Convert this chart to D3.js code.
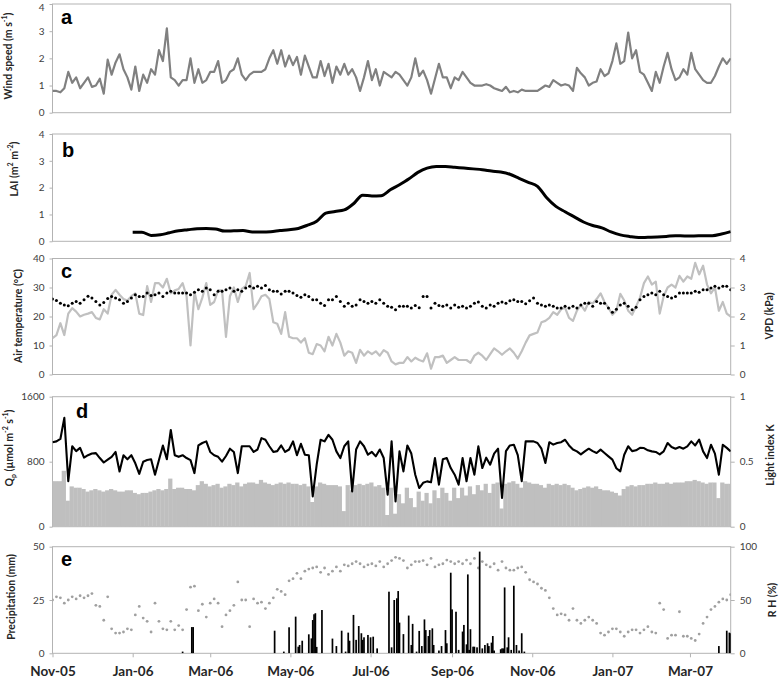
<!doctype html>
<html lang="en">
<head>
	<meta charset="UTF-8">
	<title>Wind, LAI, temperature, light and rain, Nov-05 to Mar-07</title>
	<style>
		body { margin: 0; background: #fff; }
		svg { display: block; font-family: Lato, "Open Sans", sans-serif; }
		.tick-label { font-size: 10px; fill: #404040; }
		.axis-title { font-size: 10.5px; font-weight: bold; fill: #262626; }
		.panel-letter { font-family: "Liberation Sans", Arial, sans-serif; font-size: 20px; font-weight: bold; fill: #000; }
		.month-label { font-size: 13.5px; font-weight: bold; fill: #262626; }
	</style>
</head>
<body>
	<script src="https://cdnjs.cloudflare.com/ajax/libs/d3/7.8.5/d3.min.js"></script>
	<script>
		// ---- data ----
		var startDay = '2005-11-01',
			endDay = '2007-04-01';

		var monthTicks = ['2005-11-01', '2006-01-01', '2006-03-01', '2006-05-01', '2006-07-01',
			'2006-09-01', '2006-11-01', '2007-01-01', '2007-03-01'];

		// series sampled every 3 days from 1 Nov 2005
		var sampleStep = 3;

		var windSpeed = [0.8,0.8,0.75,0.9,1.5,1.1,1.3,0.9,1.1,1.3,
			0.95,1.0,1.25,0.7,1.95,1.4,1.85,2.15,1.6,1.3,
			0.85,1.7,0.8,1.4,1.1,1.6,1.4,2.3,1.9,3.1,
			1.3,1.2,1.0,1.2,1.2,2.0,1.1,1.6,1.1,1.2,
			1.5,1.5,1.9,1.1,1.2,1.5,1.6,2.0,1.4,1.2,
			1.4,1.5,1.5,1.5,1.6,2.0,2.3,1.8,2.3,1.7,
			2.1,1.75,2.05,1.4,2.1,1.7,1.3,1.3,1.9,1.35,
			1.8,1.1,1.7,1.4,1.8,1.4,1.6,1.3,0.8,1.3,
			1.9,1.2,1.6,1.0,1.5,1.4,1.3,1.5,1.4,1.2,
			1.0,1.3,2.0,1.35,1.55,1.2,0.7,1.25,1.8,1.3,
			1.3,0.9,1.3,1.2,1.5,1.3,1.1,1.0,1.0,1.0,
			1.05,1.0,0.9,0.85,0.8,0.95,0.75,0.8,0.75,0.85,
			0.8,0.8,0.8,0.8,0.9,1.0,0.95,1.2,1.1,1.0,
			1.05,1.0,0.8,1.65,1.45,1.3,1.0,1.1,1.15,1.6,
			1.35,1.45,1.9,2.55,1.8,1.9,2.95,2.0,2.3,1.5,
			1.4,1.1,0.8,1.5,1.1,1.7,2.2,1.6,1.2,1.3,
			1.6,1.4,2.2,1.6,1.4,1.2,1.1,1.1,1.35,1.7,
			2.0,1.8,2.0];

		var airTemp = [26.0,25.5,24.6,24.0,23.7,24.6,25.2,24.6,25.8,27.0,
			26.4,25.2,24.0,24.8,26.2,26.9,26.4,25.8,24.6,25.2,
			26.4,27.5,26.9,26.9,28.1,27.2,27.5,28.1,26.9,28.1,
			28.7,28.1,28.1,28.1,28.1,27.5,28.4,29.2,28.7,29.8,
			29.2,27.5,28.7,28.7,29.2,29.8,28.7,29.2,28.7,29.8,
			30.4,29.8,30.4,29.8,30.7,29.2,28.7,28.7,27.8,28.7,
			28.7,28.1,27.2,26.6,27.5,26.9,25.8,25.8,24.6,23.8,
			25.8,25.8,26.9,25.2,23.5,24.6,23.5,24.0,25.8,25.2,
			24.6,25.2,24.6,25.8,24.6,23.5,23.2,22.3,23.5,23.5,
			23.5,22.9,23.8,23.0,26.9,26.9,22.9,24.6,23.8,23.5,
			24.0,22.9,24.0,23.2,23.5,22.9,23.5,24.6,25.0,23.5,
			22.9,24.0,23.5,24.6,25.0,24.6,25.4,25.8,25.2,25.2,
			24.4,25.4,26.4,24.6,24.0,23.5,24.0,23.5,22.9,22.9,
			23.5,22.9,23.5,22.9,24.0,24.6,24.6,23.5,25.2,24.6,
			24.6,22.9,21.5,22.5,24.0,24.6,23.5,22.3,23.2,25.8,
			26.9,27.5,28.1,27.5,28.7,27.5,26.9,26.4,26.9,28.1,
			28.1,28.1,28.1,28.7,28.4,29.2,29.2,29.8,30.4,29.8,
			30.4,30.4,29.2];

		var vpd = [1.25,1.36,1.77,1.36,2.1,2.29,2.17,2.0,2.06,2.1,
			2.15,1.95,1.9,2.25,2.1,2.75,2.92,2.75,2.6,2.55,
			2.7,2.8,2.1,2.05,3.05,2.5,3.15,3.15,3.0,3.3,
			2.8,2.9,2.95,3.15,2.7,1.0,2.85,2.25,2.65,3.15,
			2.4,2.5,2.9,2.9,1.3,2.7,3.0,2.5,2.95,3.05,
			3.5,2.25,2.45,2.7,2.75,2.6,1.8,1.75,1.4,2.15,
			1.3,1.25,1.25,1.1,1.25,0.75,0.7,1.05,1.0,0.8,
			1.3,1.0,1.4,1.1,0.65,0.8,0.75,0.4,0.85,0.65,
			0.8,0.7,0.8,0.65,0.84,0.75,0.45,0.35,0.4,0.4,
			0.6,0.45,0.58,0.5,0.45,0.73,0.2,0.6,0.6,0.65,
			0.4,0.5,0.6,0.5,0.5,0.5,0.4,0.65,0.75,0.65,
			0.5,0.7,0.9,0.8,0.68,0.8,0.9,0.75,0.55,0.8,
			1.1,1.35,1.4,1.45,1.8,1.85,1.95,2.15,2.06,2.25,
			2.3,1.95,1.85,2.2,2.4,2.2,2.5,2.45,2.6,2.8,
			2.5,2.3,2.06,2.2,2.78,2.55,2.2,2.06,2.35,2.65,
			3.15,3.38,3.1,3.2,2.1,2.7,3.0,3.1,3.0,3.4,
			3.2,3.38,3.3,3.85,3.45,3.75,3.1,2.8,3.0,2.2,
			2.5,2.1,2.0];

		var qp = [1040,1050,1080,1340,560,990,930,970,850,880,
			900,905,845,790,825,860,920,680,880,830,
			880,780,650,800,820,830,640,820,1000,830,
			1190,880,860,880,845,820,660,1000,1030,1050,
			920,880,860,800,870,960,920,660,990,990,
			990,920,950,1090,1070,990,920,930,1000,920,
			950,1050,880,1020,886,880,373,763,1070,1050,
			1130,1070,927,845,990,1050,435,950,1050,990,
			886,920,866,950,845,394,1050,312,927,681,
			1000,900,640,476,540,558,548,845,517,830,
			845,722,640,517,845,560,845,640,989,722,
			850,763,900,960,353,930,1000,1009,880,560,
			1050,1050,1050,1030,960,784,1040,1010,1030,1040,
			1070,1000,950,927,890,927,960,930,907,948,
			907,866,825,720,681,886,990,930,940,970,
			968,940,927,920,890,927,1030,980,960,980,
			960,989,1050,1000,1071,927,845,1009,900,640,
			1009,970,927];

		var lightK = [0.35,0.35,0.35,0.43,0.20,0.31,0.30,0.30,0.29,0.27,
			0.28,0.29,0.28,0.27,0.28,0.29,0.28,0.27,0.27,0.28,
			0.28,0.26,0.25,0.26,0.26,0.27,0.28,0.29,0.28,0.29,
			0.37,0.29,0.30,0.30,0.29,0.29,0.28,0.32,0.35,0.33,
			0.31,0.32,0.33,0.30,0.31,0.33,0.32,0.34,0.31,0.33,
			0.34,0.34,0.33,0.36,0.34,0.33,0.32,0.33,0.34,0.33,
			0.34,0.33,0.33,0.32,0.33,0.31,0.19,0.31,0.34,0.33,
			0.32,0.32,0.32,0.31,0.12,0.32,0.28,0.32,0.33,0.32,
			0.33,0.34,0.31,0.32,0.30,0.09,0.30,0.10,0.25,0.18,
			0.30,0.22,0.15,0.27,0.20,0.26,0.18,0.28,0.22,0.30,
			0.26,0.20,0.30,0.22,0.30,0.24,0.31,0.25,0.32,0.28,
			0.33,0.26,0.33,0.34,0.14,0.33,0.34,0.35,0.33,0.30,
			0.35,0.34,0.33,0.33,0.32,0.30,0.33,0.32,0.33,0.32,
			0.33,0.32,0.30,0.28,0.29,0.30,0.31,0.30,0.31,0.29,
			0.28,0.28,0.27,0.26,0.24,0.29,0.31,0.32,0.31,0.32,
			0.32,0.33,0.33,0.34,0.33,0.33,0.34,0.33,0.34,0.34,
			0.34,0.35,0.35,0.36,0.35,0.34,0.33,0.34,0.34,0.22,
			0.34,0.33,0.33];

		var rh = [50,53,52,47,50,53,51,54,52,54,
			56,45,44,31,53,23,19,19,20,23,
			22,36,44,33,30,20,47,30,23,22,
			30,22,26,22,41,62,63,40,46,34,
			47,51,47,25,36,40,45,67,50,50,
			25,51,47,48,42,47,52,60,58,55,
			68,70,75,70,77,79,80,81,76,80,
			74,77,81,77,83,82,84,86,84,81,
			83,84,82,86,81,84,87,90,89,87,
			80,83,86,86,87,83,89,81,83,84,
			87.5,86,84,86,84,87.5,84,89,80,86,
			83,81,84,78,86,80,78,78,80,81,
			76,69,67,65,61,59,52,42,36,37,
			36,31,42,31,28,31,34,31,28,19,
			17,20,23,23,20,16,20,22,22,19,
			22,25,20,19,47,41,14,17,17,39,
			16,16,14,12,18,28,34,41,44,48,
			51,50,55];

		// LAI, weekly from 1 Jan 2006
		var laiStart = '2006-01-01',
			laiStep = 7;
		var lai = [0.34,0.34,0.22,0.24,0.32,0.39,0.43,0.47,0.48,0.46,
			0.38,0.39,0.40,0.35,0.35,0.36,0.40,0.43,0.48,0.60,
			0.75,1.05,1.11,1.17,1.40,1.72,1.69,1.70,1.92,2.11,
			2.32,2.57,2.73,2.79,2.79,2.76,2.73,2.70,2.67,2.62,
			2.58,2.50,2.35,2.20,2.05,1.62,1.30,1.10,0.91,0.72,
			0.59,0.50,0.35,0.24,0.18,0.14,0.15,0.16,0.18,0.21,
			0.20,0.20,0.21,0.21,0.27,0.36];

		// rain events: days since 1 Nov 2005 and amount (mm)
		var rainDay = [99,106,107,169,176,180,185,187,188,190,
			195,197,198,199,200,201,205,213,216,220,
			223,225,226,229,231,233,235,236,237,240,
			242,244,247,256,258,260,262,263,264,267,
			271,273,274,277,279,281,283,284,286,287,
			289,290,294,296,299,300,303,304,307,309,
			312,313,315,316,317,318,320,321,323,325,
			327,329,331,332,334,335,336,341,342,343,
			344,346,347,349,351,353,355,357,359,507,
			513,515,516];
		var rainMm = [0.8,12.3,12.3,10.6,0.8,12.2,17.2,3.1,3.9,5.9,
			8.9,7.0,15.6,18.3,18.8,3.0,20.3,6.9,3.4,10.6,
			0.8,9.7,5.9,18.0,6.3,12.8,9.4,6.3,7.5,8.6,
			7.5,7.8,2.3,28.9,2.8,25.0,25.8,29.2,14.4,9.0,
			17.7,3.9,13.8,0.8,10.5,3.4,15.9,10.9,8.1,10.9,
			11.7,3.9,1.3,3.4,10.9,4.7,37.8,20.6,19.5,1.6,
			10.2,13.3,4.2,37.0,1.6,11.3,3.1,3.1,2.8,47.7,
			2.3,3.9,4.7,3.4,5.0,8.1,1.3,1.9,2.3,2.3,
			30.9,2.8,7.5,1.6,31.7,3.9,1.3,9.4,0.8,3.4,
			10.6,9.7,9.4];

		var windTicks = [0, 1, 2, 3, 4],
			laiTicks = [0, 1, 2, 3, 4],
			tempTicks = [0, 10, 20, 30, 40],
			vpdTicks = [0, 1, 2, 3, 4],
			qpTicks = [0, 800, 1600],
			kTicks = [0, 0.5, 1],
			rainTicks = [0, 25, 50],
			rhTicks = [0, 50, 100];


		// ---- layout ----
		var w = 783,
			h = 678,
			plotLeft = 52.5,
			plotRight = 730.7,
			frameColor = '#b3b3b3';

		var panelA = {top: 4, bottom: 112.7},
			panelB = {top: 134, bottom: 241.3},
			panelC = {top: 258.5, bottom: 374.5},
			panelD = {top: 396.7, bottom: 526.7},
			panelE = {top: 546.7, bottom: 653.3};

		var parseDay = d3.utcParse('%Y-%m-%d'),
			t0 = parseDay(startDay),
			t1 = parseDay(endDay);

		var x = d3.scaleUtc()
			.domain([t0, t1])
			.range([plotLeft, plotRight]);

		var svg = d3.select('body')
			.append('svg')
			.attr('width', w)
			.attr('height', h);


		/**
		* date of sample i in a regular series
		*/
		var sampleDate = function(start, step, i) {
			return d3.utcDay.offset(start, i * step);
		};


		/**
		* style a d3 axis the Excel way
		*/
		var styleAxis = function(g) {
			g.select('.domain').remove();
			g.attr('font-family', null).attr('font-size', null);
			g.selectAll('.tick line').attr('stroke', frameColor);
			g.selectAll('.tick text').attr('class', 'tick-label').attr('fill', null);
		};


		/**
		* keep a tick label that sits on the very top edge inside the picture
		*/
		var nudgeTopLabel = function(g, scale) {
			g.selectAll('.tick text')
				.filter(function(d) { return scale(d) < 7; })
				.attr('dy', '0.62em');
		};


		/**
		* draw the panel frame, axes, letter and titles
		*/
		var drawPanel = function(p) {
			svg.append('rect')
				.attr('x', plotLeft)
				.attr('y', p.top)
				.attr('width', plotRight - plotLeft)
				.attr('height', p.bottom - p.top)
				.attr('fill', 'none')
				.attr('stroke', frameColor)
				.attr('stroke-width', 1);

			svg.append('g')
				.attr('transform', 'translate(' + plotLeft + ',0)')
				.call(d3.axisLeft(p.yLeft).tickValues(p.leftTicks).tickSize(3).tickPadding(5).tickFormat(String))
				.call(styleAxis)
				.call(nudgeTopLabel, p.yLeft);

			if (p.yRight) {
				svg.append('g')
					.attr('transform', 'translate(' + plotRight + ',0)')
					.call(d3.axisRight(p.yRight).tickValues(p.rightTicks).tickSize(4).tickPadding(5).tickFormat(String))
					.call(styleAxis);
			}

			svg.append('text')
				.attr('class', 'panel-letter')
				.attr('x', p.letterX)
				.attr('y', p.letterY)
				.text(p.letter);

			addTitle(p.leftTitle, p.leftTitleX, p.leftTitleY);
			if (p.rightTitle) {
				addTitle(p.rightTitle, p.rightTitleX, p.rightTitleY);
			}

			svg.append('clipPath')
				.attr('id', 'clip-' + p.letter)
				.append('rect')
				.attr('x', plotLeft)
				.attr('y', p.top)
				.attr('width', plotRight - plotLeft)
				.attr('height', p.bottom - p.top);

			return svg.append('g').attr('clip-path', 'url(#clip-' + p.letter + ')');
		};


		/**
		* rotated axis title; parts are [text, 'sup'|'sub'|null]
		*/
		var addTitle = function(parts, cx, cy) {
			var t = svg.append('text')
				.attr('class', 'axis-title')
				.attr('text-anchor', 'middle')
				.attr('dominant-baseline', 'central')
				.attr('transform', 'translate(' + cx + ',' + cy + ') rotate(-90)');
			parts.forEach(function(part) {
				var span = t.append('tspan').text(part[0]);
				if (part[1] === 'sup') {
					span.attr('baseline-shift', 'super').attr('font-size', '7px');
				} else if (part[1] === 'sub') {
					span.attr('baseline-shift', 'sub').attr('font-size', '7px');
				}
			});
		};


		// ---- panel a: wind speed ----
		panelA.yLeft = d3.scaleLinear().domain([0, 4]).range([panelA.bottom, panelA.top]);
		panelA.leftTicks = windTicks;
		panelA.letter = 'a'; panelA.letterX = 61; panelA.letterY = 24;
		panelA.leftTitle = [['Wind speed (m s'], ['-1', 'sup'], [')']];
		panelA.leftTitleX = 8; panelA.leftTitleY = 56;
		var gA = drawPanel(panelA);

		gA.append('path')
			.datum(windSpeed)
			.attr('fill', 'none')
			.attr('stroke', '#808080')
			.attr('stroke-width', 2.2)
			.attr('stroke-linejoin', 'round')
			.attr('d', d3.line()
				.x(function(d, i) { return x(sampleDate(t0, sampleStep, i)); })
				.y(function(d) { return panelA.yLeft(d); }));


		// ---- panel b: LAI ----
		panelB.yLeft = d3.scaleLinear().domain([0, 4]).range([panelB.bottom, panelB.top]);
		panelB.leftTicks = laiTicks;
		panelB.letter = 'b'; panelB.letterX = 62; panelB.letterY = 157;
		panelB.leftTitle = [['LAI (m'], ['2', 'sup'], [' m'], ['-2', 'sup'], [')']];
		panelB.leftTitleX = 14; panelB.leftTitleY = 169;
		var gB = drawPanel(panelB);
		var laiT0 = parseDay(laiStart);

		gB.append('path')
			.datum(lai)
			.attr('fill', 'none')
			.attr('stroke', '#000')
			.attr('stroke-width', 3)
			.attr('stroke-linejoin', 'round')
			.attr('d', d3.line()
				.curve(d3.curveMonotoneX)
				.x(function(d, i) { return x(sampleDate(laiT0, laiStep, i)); })
				.y(function(d) { return panelB.yLeft(d); }));


		// ---- panel c: air temperature (dots) and VPD (line) ----
		panelC.yLeft = d3.scaleLinear().domain([0, 40]).range([panelC.bottom, panelC.top]);
		panelC.yRight = d3.scaleLinear().domain([0, 4]).range([panelC.bottom, panelC.top]);
		panelC.leftTicks = tempTicks;
		panelC.rightTicks = vpdTicks;
		panelC.letter = 'c'; panelC.letterX = 61; panelC.letterY = 278;
		panelC.leftTitle = [['Air temperature (°C)']];
		panelC.leftTitleX = 18; panelC.leftTitleY = 316;
		panelC.rightTitle = [['VPD (kPa)']];
		panelC.rightTitleX = 769; panelC.rightTitleY = 316;
		var gC = drawPanel(panelC);

		gC.append('path')
			.datum(vpd)
			.attr('fill', 'none')
			.attr('stroke', '#c0c0c0')
			.attr('stroke-width', 2.2)
			.attr('stroke-linejoin', 'round')
			.attr('d', d3.line()
				.x(function(d, i) { return x(sampleDate(t0, sampleStep, i)); })
				.y(function(d) { return panelC.yRight(d); }));

		gC.selectAll('circle')
			.data(airTemp)
			.enter()
			.append('circle')
			.attr('cx', function(d, i) { return x(sampleDate(t0, sampleStep, i)); })
			.attr('cy', function(d) { return panelC.yLeft(d); })
			.attr('r', 1.5)
			.attr('fill', '#000');


		// ---- panel d: Qp (line) and light index K (bars) ----
		panelD.yLeft = d3.scaleLinear().domain([0, 1600]).range([panelD.bottom, panelD.top]);
		panelD.yRight = d3.scaleLinear().domain([0, 1]).range([panelD.bottom, panelD.top]);
		panelD.leftTicks = qpTicks;
		panelD.rightTicks = kTicks;
		panelD.letter = 'd'; panelD.letterX = 76; panelD.letterY = 418;
		panelD.leftTitle = [['Q'], ['p', 'sub'], [' (µmol m'], ['-2', 'sup'], [' s'], ['-1', 'sup'], [')']];
		panelD.leftTitleX = 9; panelD.leftTitleY = 448;
		panelD.rightTitle = [['Light index K']];
		panelD.rightTitleX = 770; panelD.rightTitleY = 455;
		var gD = drawPanel(panelD);

		gD.selectAll('rect.k-bar')
			.data(lightK)
			.enter()
			.append('rect')
			.attr('class', 'k-bar')
			.attr('x', function(d, i) { return x(sampleDate(t0, sampleStep, i - 0.5)); })
			.attr('width', function(d, i) {
				return x(sampleDate(t0, sampleStep, i + 0.5)) - x(sampleDate(t0, sampleStep, i - 0.5)) + 0.3;
			})
			.attr('y', function(d) { return panelD.yRight(d); })
			.attr('height', function(d) { return panelD.bottom - panelD.yRight(d); })
			.attr('fill', '#bfbfbf');

		gD.append('path')
			.datum(qp)
			.attr('fill', 'none')
			.attr('stroke', '#000')
			.attr('stroke-width', 2.1)
			.attr('stroke-linejoin', 'round')
			.attr('d', d3.line()
				.x(function(d, i) { return x(sampleDate(t0, sampleStep, i)); })
				.y(function(d) { return panelD.yLeft(d); }));


		// ---- panel e: precipitation (bars) and RH (dots) ----
		panelE.yLeft = d3.scaleLinear().domain([0, 50]).range([panelE.bottom, panelE.top]);
		panelE.yRight = d3.scaleLinear().domain([0, 100]).range([panelE.bottom, panelE.top]);
		panelE.leftTicks = rainTicks;
		panelE.rightTicks = rhTicks;
		panelE.letter = 'e'; panelE.letterX = 61; panelE.letterY = 566;
		panelE.leftTitle = [['Precipitation (mm)']];
		panelE.leftTitleX = 11; panelE.leftTitleY = 597;
		panelE.rightTitle = [['R H (%)']];
		panelE.rightTitleX = 772; panelE.rightTitleY = 600;
		var gE = drawPanel(panelE);

		gE.selectAll('circle')
			.data(rh)
			.enter()
			.append('circle')
			.attr('cx', function(d, i) { return x(sampleDate(t0, sampleStep, i)); })
			.attr('cy', function(d) { return panelE.yRight(d); })
			.attr('r', 1.4)
			.attr('fill', '#a0a0a0');

		var barW = 1.7;
		gE.selectAll('rect.rain')
			.data(rainMm)
			.enter()
			.append('rect')
			.attr('class', 'rain')
			.attr('x', function(d, i) { return x(d3.utcDay.offset(t0, rainDay[i])) - barW / 2; })
			.attr('width', barW)
			.attr('y', function(d) { return panelE.yLeft(d); })
			.attr('height', function(d) { return panelE.bottom - panelE.yLeft(d); })
			.attr('fill', '#000');

		// month axis under the last panel
		svg.append('g')
			.attr('transform', 'translate(0,' + panelE.bottom + ')')
			.call(d3.axisBottom(x)
				.tickValues(monthTicks.map(parseDay))
				.tickSize(4)
				.tickPadding(9)
				.tickFormat(d3.utcFormat('%b-%y')))
			.call(styleAxis)
			.call(function(g) {
				g.selectAll('.tick text').attr('class', 'month-label');
			});
	</script>
</body>
</html>
